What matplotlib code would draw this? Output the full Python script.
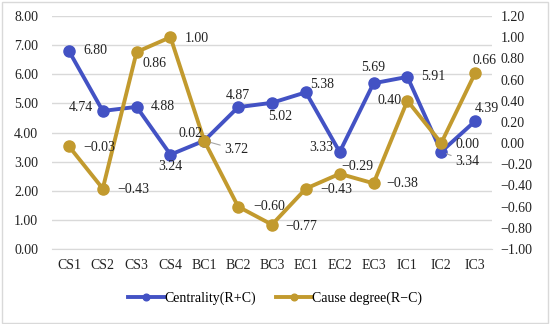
import matplotlib
matplotlib.use("Agg")
import matplotlib.pyplot as plt
from matplotlib.patches import Rectangle

plt.rcParams['font.family'] = ['Liberation Serif', 'DejaVu Serif']
plt.rcParams['axes.unicode_minus'] = True

categories = ["CS1", "CS2", "CS3", "CS4", "BC1", "BC2", "BC3", "EC1", "EC2", "EC3", "IC1", "IC2", "IC3"]
centrality = [6.80, 4.74, 4.88, 3.24, 3.72, 4.87, 5.02, 5.38, 3.33, 5.69, 5.91, 3.34, 4.39]
cause = [-0.03, -0.43, 0.86, 1.00, 0.02, -0.60, -0.77, -0.43, -0.29, -0.38, 0.40, 0.00, 0.66]
left_ticks = [0, 1, 2, 3, 4, 5, 6, 7, 8]
right_ticks = [-1.0, -0.8, -0.6, -0.4, -0.2, 0.0, 0.2, 0.4, 0.6, 0.8, 1.0, 1.2]

blue = "#4352C4"
gold = "#C29A2E"

fig = plt.figure(figsize=(5.5, 3.24), dpi=100)
ax = fig.add_axes([52/550, 1-249/324, 440/550, 233/324])
ax2 = ax.twinx()

x = list(range(len(categories)))
l1, = ax.plot(x, centrality, color=blue, lw=2.8, marker='o', ms=8, label="Centrality(R+C)", zorder=3)
l2, = ax2.plot(x, cause, color=gold, lw=2.8, marker='o', ms=8, label="Cause degree(R\u2212C)", zorder=3)

ax.set_xlim(-0.5, len(categories)-0.5)
ax.set_ylim(0, 8)
ax2.set_ylim(-1.0, 1.2)
ax.set_yticks(left_ticks)
ax.set_yticklabels([f"{v:.2f}" for v in left_ticks])
ax2.set_yticks(right_ticks)
ax2.set_yticklabels([f"{v:.2f}".replace("-", "\u2212") for v in right_ticks])
ax.set_xticks(x)
ax.set_xticklabels(categories)
ax.grid(axis='y', color='#d9d9d9', lw=1)
ax.set_axisbelow(True)
for a in (ax, ax2):
    for s in a.spines.values():
        s.set_visible(False)
    a.tick_params(length=0, labelsize=10, colors='#222222')
ax.spines['bottom'].set_visible(True)
ax.spines['bottom'].set_color('#d9d9d9')
ax.tick_params(axis='x', pad=7)
ax.tick_params(axis='y', pad=10)
ax2.tick_params(axis='y', pad=6)

def fmt(v):
    return f"{v:.2f}".replace("-", "\u2212")

# label offsets in pixels (dx, dy, ha, leader)
c_off = [(14, 0, 'left', False), (-10, 3, 'right', False), (14, 0, 'left', False), (0, -12, 'center', False),
         (20, -9, 'left', True), (0, 12, 'center', False), (8, -14, 'center', False), (4, 8, 'left', False),
         (-6, 5, 'right', False), (0, 16, 'center', False), (14, 0, 'left', False), (14, -10, 'left', True),
         (12, 13, 'center', False)]
k_off = [(14, -1, 'left'), (15, -1, 'left'), (18, -11, 'center'), (14, -1, 'left'),
         (-14, 7, 'center'), (15, 0, 'left'), (13, -2, 'left'), (14, -1, 'left'),
         (18, 7, 'center'), (13, 0, 'left'), (-6, 0, 'right'), (14, -1, 'left'), (9, 13, 'center')]

for i, v in enumerate(centrality):
    dx, dy, ha, leader = c_off[i]
    kw = {}
    if leader:
        kw['arrowprops'] = dict(arrowstyle='-', color='#a6a6a6', lw=0.8, shrinkA=1, shrinkB=4)
    ax.annotate(fmt(v), (i, v), xytext=(dx, dy), textcoords='offset pixels',
                ha=ha, va='center', fontsize=10, color='#222222', zorder=5, **kw)
for i, v in enumerate(cause):
    dx, dy, ha = k_off[i]
    ax2.annotate(fmt(v), (i, v), xytext=(dx, dy), textcoords='offset pixels',
                 ha=ha, va='center', fontsize=10, color='#222222', zorder=5)

fig.legend([l1, l2], [l1.get_label(), l2.get_label()], loc='center', bbox_to_anchor=(0.5, 1-298/324),
           ncol=2, frameon=False, fontsize=10, handlelength=2.6, columnspacing=1.4,
           handletextpad=0.05, markerscale=0.6)

fig.patches.append(Rectangle((0.003, 0.004), 0.994, 0.99, transform=fig.transFigure,
                             fill=False, edgecolor='#d9d9d9', lw=1))

fig.savefig("out.png", dpi=100)
